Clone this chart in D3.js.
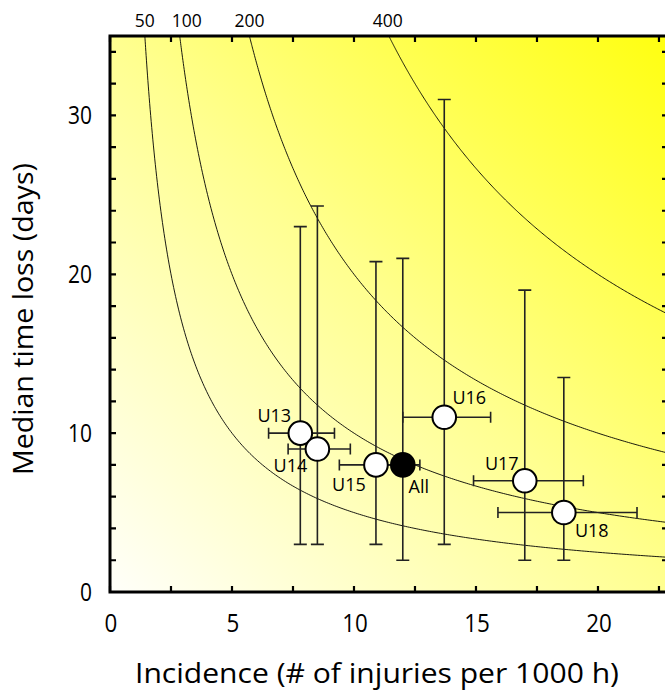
<!DOCTYPE html>
<html>
<head>
<meta charset="utf-8">
<script src="https://cdn.jsdelivr.net/npm/d3@7"></script>
<style>
  body { margin: 0; background: #fff; }
  text { font-family: "Open Sans", sans-serif; fill: #000; }
</style>
</head>
<body>
<div id="chart"></div>
<script>
// age groups, incidence (per 1000 h) with range, median time loss (days) with range
const groups    = ["U13", "U14", "U15", "All", "U16", "U17", "U18"];
const incidence = [7.8, 8.5, 10.9, 12.0, 13.7, 17.0, 18.6];
const incLow    = [6.5, 7.3, 9.4, 11.3, 12.0, 14.9, 15.9];
const incHigh   = [9.2, 9.85, 12.3, 12.7, 15.6, 19.4, 21.6];
const timeLoss  = [10, 9, 8, 8, 11, 7, 5];
const lossLow   = [3, 3, 3, 2, 3, 2, 2];
const lossHigh  = [23, 24.3, 20.8, 21, 31, 19, 13.5];
const burdens   = [50, 100, 200, 400];
const xTicks    = [0, 5, 10, 15, 20];
const yTicks    = [0, 10, 20, 30];
// label placement per group [dx, dy]
const labelOffsets = [[-26, -11], [-27, 23], [-27, 26], [16, 28], [25, -13], [-23, -11], [28, 24]];
const burdenNudge  = [0, 7, 0, -1];

const W = 665, H = 692;
const m = { left: 110, right: 668, top: 36, bottom: 592 };

const x = d3.scaleLinear().domain([0, 22.87]).range([m.left, m.right]);
const y = d3.scaleLinear().domain([0, 35]).range([m.bottom, m.top]);

const svg = d3.select("#chart").append("svg")
    .attr("width", W).attr("height", H);

const defs = svg.append("defs");
const grad = defs.append("linearGradient")
    .attr("id", "bg").attr("x1", "0").attr("y1", "1").attr("x2", "1").attr("y2", "0");
grad.append("stop").attr("offset", "0").attr("stop-color", "#fffffa");
grad.append("stop").attr("offset", "0.5").attr("stop-color", "#ffff90");
grad.append("stop").attr("offset", "1").attr("stop-color", "#ffff10");

defs.append("clipPath").attr("id", "clip")
  .append("rect")
    .attr("x", m.left).attr("y", m.top)
    .attr("width", m.right - m.left).attr("height", m.bottom - m.top);

svg.append("rect")
    .attr("x", m.left).attr("y", m.top)
    .attr("width", m.right - m.left).attr("height", m.bottom - m.top)
    .attr("fill", "url(#bg)");

// iso-burden curves: incidence * time loss = burden
const plot = svg.append("g").attr("clip-path", "url(#clip)");
const line = d3.line().x(d => x(d[0])).y(d => y(d[1]));
burdens.forEach(k => {
  const x0 = k / 35, x1 = x.domain()[1];
  const pts = d3.range(0, 301).map(i => {
    const xv = x0 + (x1 - x0) * Math.pow(i / 300, 1.6);
    return [xv, k / xv];
  });
  plot.append("path")
      .attr("d", line(pts))
      .attr("fill", "none")
      .attr("stroke", "#000")
      .attr("stroke-width", 0.9);
});

svg.selectAll(".burden")
  .data(burdens)
  .enter().append("text")
    .attr("x", (d, i) => x(d / 35) + burdenNudge[i])
    .attr("y", 27)
    .attr("text-anchor", "middle")
    .attr("textLength", d => String(d).length * 10)
    .attr("lengthAdjust", "spacingAndGlyphs")
    .style("font-size", "19px")
    .text(d => d);

// axes with inward ticks
const tickLen = 6;
const axisG = svg.append("g");
const xMinor = d3.range(0, 22.8, 2.5);
const yMinor = d3.range(0, 35.01, 2);
axisG.selectAll(".xt")
  .data(xMinor)
  .enter().append("path")
    .attr("d", d => `M${x(d)},${m.bottom}v${-tickLen}M${x(d)},${m.top}v${tickLen}`)
    .attr("stroke", "#000").attr("stroke-width", 2.2);
axisG.selectAll(".yt")
  .data(yMinor)
  .enter().append("path")
    .attr("d", d => `M${m.left},${y(d)}h${tickLen}M${m.right},${y(d)}h${-tickLen}`)
    .attr("stroke", "#000").attr("stroke-width", 2.2);
axisG.append("rect")
    .attr("x", m.left).attr("y", m.top)
    .attr("width", m.right - m.left).attr("height", m.bottom - m.top)
    .attr("fill", "none").attr("stroke", "#000").attr("stroke-width", 3);

svg.selectAll(".xl")
  .data(xTicks)
  .enter().append("text")
    .attr("x", d => x(d) + 1)
    .attr("y", 632)
    .attr("text-anchor", "middle")
    .attr("textLength", d => String(d).length * 12.8)
    .attr("lengthAdjust", "spacingAndGlyphs")
    .style("font-size", "26px")
    .text(d => d);
svg.selectAll(".yl")
  .data(yTicks)
  .enter().append("text")
    .attr("x", 92)
    .attr("y", d => y(d) + 9)
    .attr("text-anchor", "end")
    .attr("textLength", d => String(d).length * 12)
    .attr("lengthAdjust", "spacingAndGlyphs")
    .style("font-size", "25px")
    .text(d => d);

svg.append("text")
    .attr("x", 377).attr("y", 683)
    .attr("text-anchor", "middle")
    .attr("textLength", 484)
    .attr("lengthAdjust", "spacingAndGlyphs")
    .style("font-size", "27px")
    .text("Incidence (# of injuries per 1000 h)");
svg.append("text")
    .attr("transform", "translate(33,319)rotate(-90)")
    .attr("text-anchor", "middle")
    .attr("textLength", 312)
    .attr("lengthAdjust", "spacingAndGlyphs")
    .style("font-size", "28px")
    .text("Median time loss (days)");

// error bars
const pts = groups.map((g, i) => ({
  g, x: incidence[i], y: timeLoss[i],
  x1: incLow[i], x2: incHigh[i], y1: lossLow[i], y2: lossHigh[i], lab: labelOffsets[i]
}));
const eb = svg.append("g").attr("stroke", "#222").attr("stroke-width", 1.6).attr("fill", "none");
eb.selectAll(".v")
  .data(pts)
  .enter().append("path")
    .attr("d", d => `M${x(d.x)},${y(d.y1)}V${y(d.y2)}` +
      `M${x(d.x) - 6.5},${y(d.y1)}h13M${x(d.x) - 6.5},${y(d.y2)}h13`);
eb.selectAll(".h")
  .data(pts)
  .enter().append("path")
    .attr("d", d => `M${x(d.x1)},${y(d.y)}H${x(d.x2)}` +
      `M${x(d.x1)},${y(d.y) - 5.5}v11M${x(d.x2)},${y(d.y) - 5.5}v11`);

svg.selectAll(".pt")
  .data(pts)
  .enter().append("circle")
    .attr("cx", d => x(d.x))
    .attr("cy", d => y(d.y))
    .attr("r", 11.8)
    .attr("fill", d => d.g === "All" ? "#000" : "#fff")
    .attr("stroke", "#000")
    .attr("stroke-width", 2);

svg.selectAll(".lab")
  .data(pts)
  .enter().append("text")
    .attr("x", d => x(d.x) + d.lab[0])
    .attr("y", d => y(d.y) + d.lab[1])
    .attr("text-anchor", "middle")
    .style("font-size", "18px")
    .text(d => d.g);
</script>
</body>
</html>
